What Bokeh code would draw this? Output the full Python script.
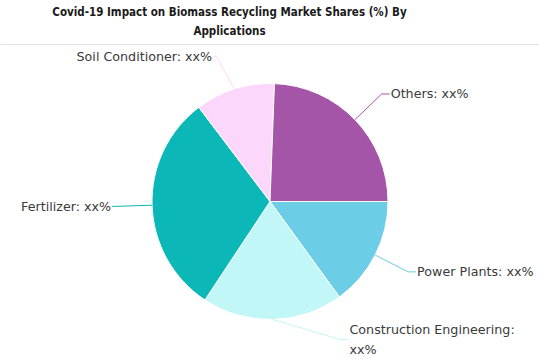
import math
import numpy as np
from bokeh.plotting import figure
from bokeh.models import Range1d
from bokeh.core.properties import value
from bokeh.embed import file_html
from bokeh.resources import INLINE

# ---- data ----
categories = ["Power Plants", "Construction Engineering", "Fertilizer", "Soil Conditioner", "Others"]
shares = [15.0, 19.3, 30.4, 10.9, 24.4]
label_texts = ["Power Plants: xx%", "Construction Engineering:\nxx%", "Fertilizer: xx%", "Soil Conditioner: xx%", "Others: xx%"]
colors = ["#6ccde6", "#c2f7f7", "#0bb7b7", "#fcd7fc", "#a455a8"]
title_lines = ["Covid-19 Impact on Biomass Recycling Market Shares (%) By", "Applications"]

W, H = 539, 359
CX, CY, R = 269.5, H - 201, 118

p = figure(width=W, height=H, x_range=Range1d(0, W), y_range=Range1d(0, H),
           toolbar_location=None, output_backend="svg", min_border=0)
p.axis.visible = False
p.grid.visible = False
p.outline_line_color = None
p.background_fill_color = "white"

# title
p.text(x=[229, 229], y=[H - 11, H - 30], text=title_lines,
       text_font=value("DejaVu Sans Condensed"), text_font_style="bold",
       text_font_size="11.5px", text_color="#1a1a1a",
       text_align="center", text_baseline="middle")
p.segment(x0=[0], y0=[H - 44], x1=[W], y1=[H - 44], line_color="#e3e3e3", line_width=1)

# wedges: start at 3 o'clock, clockwise
vals = np.array(shares)
ang = vals / vals.sum() * 2 * math.pi
cum = np.concatenate([[0], np.cumsum(ang)])
starts = -cum[:-1]
ends = -cum[1:]
p.wedge(x=[CX] * len(vals), y=[CY] * len(vals), radius=R,
        start_angle=list(starts), end_angle=list(ends), direction="clock",
        fill_color=colors, line_color="white", line_width=1)

# labels (layout: angle override for construction label to avoid crowding)
label_dist = 155
label_angle_shift = [0, 0.45, 0, 0.05, 0]
for i in range(len(vals)):
    mid = -(cum[i] + cum[i + 1]) / 2
    ex, ey = CX + R * math.cos(mid), CY + R * math.sin(mid)
    la = mid + label_angle_shift[i]
    bx, by = CX + label_dist * math.cos(la), CY + label_dist * math.sin(la)
    right = math.cos(la) > 0
    sx = bx + (8 if right else -3)
    p.line(x=[ex, bx, sx], y=[ey, by, by], line_color=colors[i], line_width=1)
    p.text(x=[sx + (1 if right else -1)], y=[by], text=[label_texts[i]],
           text_font=value("DejaVu Sans"), text_font_size="12.7px", text_color="#3a3a3a",
           text_align="left" if right else "right", text_baseline="middle",
           text_line_height=1.35)

open("out.html", "w").write(file_html(p, INLINE))
